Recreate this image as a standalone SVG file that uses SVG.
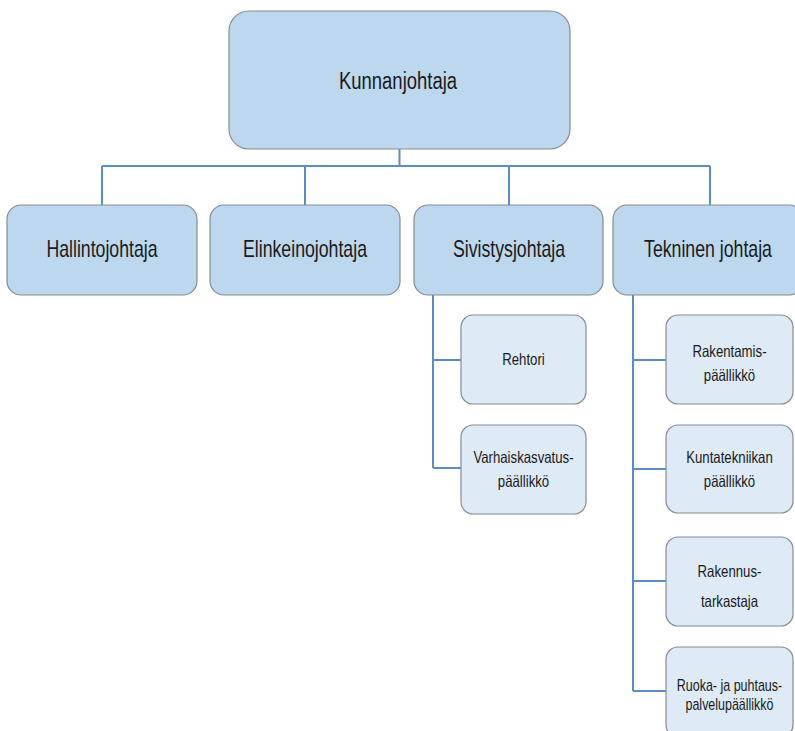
<svg xmlns="http://www.w3.org/2000/svg" width="795" height="731" viewBox="0 0 795 731">
<style>
.l1{fill:#BDD7EE;stroke:#868b92;stroke-width:1.2}
.l3{fill:#DEEAF6;stroke:#868b92;stroke-width:1.2}
text{font-family:"Liberation Sans",Arial,sans-serif;fill:#1a1a1a;text-anchor:middle}
.t1{font-size:24px}
.t2{font-size:23px}
.t3{font-size:16.5px}
.t4{font-size:16px}
.c{fill:none;stroke:#5B8CC4;stroke-width:2}
</style>
<rect width="795" height="731" fill="#ffffff"/>
<g id="connectors">
<path class="c" d="M399.5,149V166M102,166H710M102,166V205M305,166V205M509,166V205M710,166V205"/>
<path class="c" d="M433,295V468M433,360H461M433,468H461"/>
<path class="c" d="M633,295V691M633,360H666M633,469H666M633,581H666M633,691H666"/>
</g>
<g id="kunnanjohtaja"><rect class="l1" x="229" y="11" width="341" height="138" rx="20"/><text class="t1" transform="translate(398,89) scale(0.77,1)">Kunnanjohtaja</text></g>
<g id="hallintojohtaja"><rect class="l1" x="7" y="205" width="190" height="90" rx="14"/><text class="t2" transform="translate(102,257) scale(0.77,1)">Hallintojohtaja</text></g>
<g id="elinkeinojohtaja"><rect class="l1" x="210" y="205" width="190" height="90" rx="14"/><text class="t2" transform="translate(305,257) scale(0.77,1)">Elinkeinojohtaja</text></g>
<g id="sivistysjohtaja"><rect class="l1" x="414" y="205" width="189" height="90" rx="14"/><text class="t2" transform="translate(509,257) scale(0.77,1)">Sivistysjohtaja</text></g>
<g id="tekninen"><rect class="l1" x="613" y="205" width="190" height="90" rx="14"/><text class="t2" transform="translate(708,257) scale(0.77,1)">Tekninen johtaja</text></g>
<g id="rehtori"><rect class="l3" x="461" y="315" width="125" height="89" rx="12"/><text class="t3" transform="translate(523.5,365) scale(0.8,1)">Rehtori</text></g>
<g id="varhaiskasvatus"><rect class="l3" x="461" y="425" width="125" height="89" rx="12"/><text class="t3" transform="translate(523.5,463) scale(0.8,1)">Varhaiskasvatus-</text><text class="t3" transform="translate(523.5,487) scale(0.8,1)">päällikkö</text></g>
<g id="rakentamis"><rect class="l3" x="666" y="315" width="127" height="89" rx="12"/><text class="t3" transform="translate(729.5,357) scale(0.8,1)">Rakentamis-</text><text class="t3" transform="translate(729.5,381) scale(0.8,1)">päällikkö</text></g>
<g id="kuntatekniikan"><rect class="l3" x="666" y="425" width="127" height="88" rx="12"/><text class="t3" transform="translate(729.5,463) scale(0.8,1)">Kuntatekniikan</text><text class="t3" transform="translate(729.5,487) scale(0.8,1)">päällikkö</text></g>
<g id="rakennustarkastaja"><rect class="l3" x="666" y="537" width="127" height="89" rx="12"/><text class="t3" transform="translate(729.5,577) scale(0.8,1)">Rakennus-</text><text class="t3" transform="translate(729.5,607) scale(0.8,1)">tarkastaja</text></g>
<g id="ruoka"><rect class="l3" x="666" y="647" width="127" height="90" rx="12"/><text class="t4" transform="translate(729.5,691) scale(0.78,1)">Ruoka- ja puhtaus-</text><text class="t4" transform="translate(729.5,710) scale(0.78,1)">palvelupäällikkö</text></g>
</svg>
